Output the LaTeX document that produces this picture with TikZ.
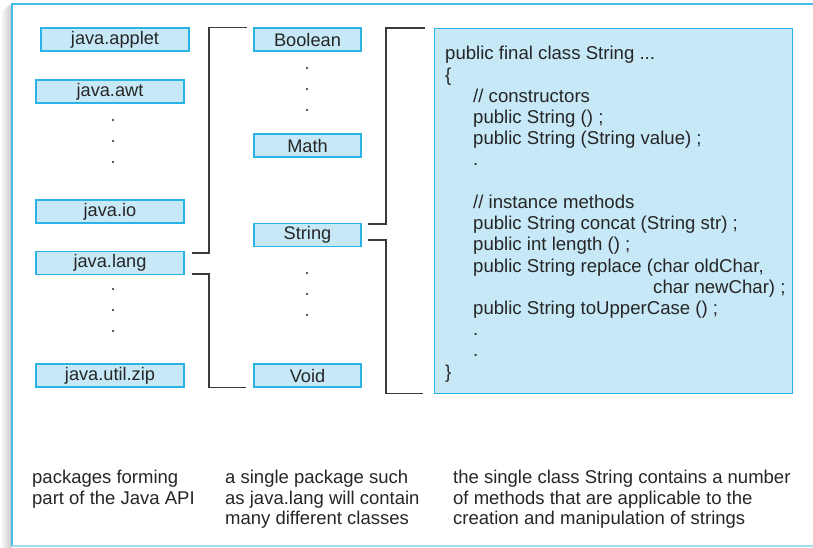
\documentclass[tikz,border=0pt]{standalone}
\usepackage{fontspec}
\setmainfont{Liberation Sans}
\usetikzlibrary{calc}
\definecolor{boxfill}{HTML}{C6E8F7}
\definecolor{boxline}{HTML}{2AB4E6}
\definecolor{frameline}{HTML}{45BDEA}
\definecolor{framelow}{HTML}{A6DDF1}
\definecolor{wire}{HTML}{3A3A3A}
\definecolor{ink}{HTML}{262626}
\tikzset{
  pkgbox/.style={draw=boxline, fill=boxfill, line width=1.2pt, minimum width=148pt,
    minimum height=23pt, inner sep=0pt, font=\fontsize{18.2}{20}\selectfont, text=ink},
  clsbox/.style={pkgbox, minimum width=107pt},
  wireline/.style={draw=wire, line width=1.3pt},
  dotmark/.style={circle, fill=ink, inner sep=0pt, minimum size=2.2pt},
  codeline/.style={anchor=base west, inner sep=0pt, font=\fontsize{18.6}{21}\selectfont, text=ink},
  caption/.style={anchor=north west, inner sep=0pt, align=left, text=ink,
    font=\fontsize{18.5}{20.6}\selectfont}
}
\newcommand\codey[1]{60+21.2*#1}
\begin{document}
\begin{tikzpicture}[x=1pt, y=-1pt]
\useasboundingbox (0,0) rectangle (813,548);
% page shadow on the left edge
\shade[left color=white, right color=black!22] (0,12) -- (12,4) -- (12,548) -- (0,548) -- cycle;
\fill[white] (12,4) rectangle (813,548);
% frame
\draw[frameline, line width=1.3pt] (12,546) -- (12,4) -- (813,4);
\draw[framelow, line width=1.3pt] (12,546) -- (813,546);

% packages
\node[pkgbox] (applet) at (115,39.5) {java.applet};
\node[pkgbox] (awt)    at (110,91.5) {java.awt};
\node[pkgbox] (io)     at (110,211.5) {java.io};
\node[pkgbox] (lang)   at (110,263) {java.lang};
\node[pkgbox] (zip)    at (110,375.5) {java.util.zip};
\foreach \yy [count=\i] in {120,141,162} \node[dotmark] (pa\i) at (113,\yy) {};
\foreach \yy [count=\i] in {289,310,331} \node[dotmark] (pb\i) at (113,\yy) {};

% classes of java.lang
\node[clsbox] (bool)  at (307.5,39.5) {Boolean};
\node[clsbox] (math)  at (307.5,145.5) {Math};
\node[clsbox] (str)   at (307.5,235) {String};
\node[clsbox] (void)  at (307.5,375.5) {Void};
\foreach \yy [count=\i] in {68,89,110} \node[dotmark] (ca\i) at (307,\yy) {};
\foreach \yy [count=\i] in {273,294,315} \node[dotmark] (cb\i) at (307,\yy) {};

% class String
\node[draw=boxline, fill=boxfill, line width=1.2pt, minimum width=358pt, minimum height=365pt,
  inner sep=0pt, anchor=north west] (code) at (434,28) {};
\node[codeline] (cl0)  at (445,{\codey{0}})  {public final class String ...};
\node[codeline] (cl1)  at (445,{\codey{1}})  {\{};
\node[codeline] (cl2)  at (473,{\codey{2}})  {// constructors};
\node[codeline] (cl3)  at (473,{\codey{3}})  {public String () ;};
\node[codeline] (cl4)  at (473,{\codey{4}})  {public String (String value) ;};
\node[codeline] (cl5)  at (473,{\codey{5}})  {.};
\node[codeline] (cl7)  at (473,{\codey{7}})  {// instance methods};
\node[codeline] (cl8)  at (473,{\codey{8}})  {public String concat (String str) ;};
\node[codeline] (cl9)  at (473,{\codey{9}})  {public int length () ;};
\node[codeline] (cl10) at (473,{\codey{10}}) {public String replace (char oldChar,};
\node[codeline] (cl11) at (653,{\codey{11}}) {char newChar) ;};
\node[codeline] (cl12) at (473,{\codey{12}}) {public String toUpperCase () ;};
\node[codeline] (cl13) at (473,{\codey{13}}) {.};
\node[codeline] (cl14) at (473,{\codey{14}}) {.};
\node[codeline] (cl15) at (445,{\codey{15}}) {\}};

% connectors
\coordinate (l1a) at ($(lang.north east)+(7,2)$);
\coordinate (l1b) at ($(bool.north west)+(-6,0)$);
\coordinate (l2a) at ($(lang.south east)+(7,-1)$);
\coordinate (l2b) at ($(void.south west)+(-7,0)$);
\coordinate (r1a) at ($(str.north east)+(6,1)$);
\coordinate (r1b) at ($(code.north west)+(-9,0)$);
\coordinate (r2a) at ($(str.south east)+(6,-7)$);
\coordinate (r2b) at ($(code.south west)+(-11,-1)$);
\draw[wireline] (l1a) -- (209,0 |- l1a) |- (l1b);
\draw[wireline] (l2a) -- (209,0 |- l2a) |- (l2b);
\draw[wireline] (r1a) -- (386,0 |- r1a) |- (r1b);
\draw[wireline] (r2a) -- (386,0 |- r2a) |- (r2b);

% captions
\node[caption] (capa) at (32,470) {packages forming\\part of the Java API};
\node[caption] (capb) at (225,470) {a single package such\\as java.lang will contain\\many different classes};
\node[caption] (capc) at (453,470) {the single class String contains a number\\of methods that are applicable to the\\creation and manipulation of strings};
\end{tikzpicture}
\end{document}
